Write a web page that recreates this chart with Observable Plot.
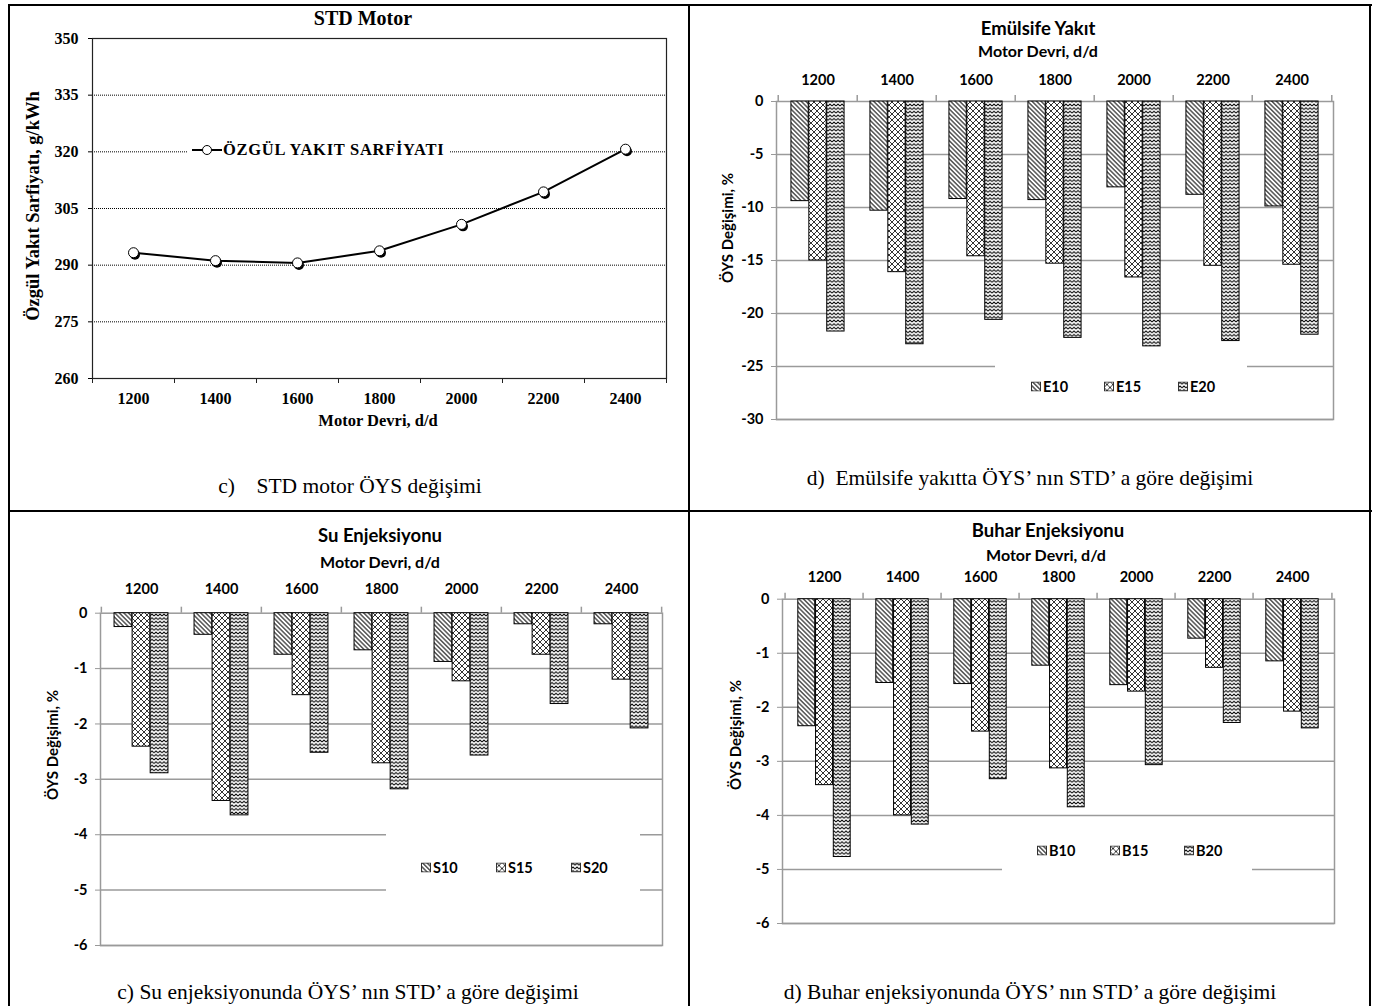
<!DOCTYPE html>
<html><head><meta charset="utf-8">
<script src="https://cdn.jsdelivr.net/npm/d3@7"></script>
<script src="https://cdn.jsdelivr.net/npm/@observablehq/plot@0.6"></script>
<style>
body{margin:0;background:#fff;width:1377px;height:1006px;position:relative;overflow:hidden}
.abs{position:absolute;white-space:pre;line-height:1;color:#000}
.serif{font-family:"Liberation Serif","Times New Roman",serif}
.sans{font-family:Lato,"Noto Sans",sans-serif}
.bline{position:absolute;background:#000}
.bars g[aria-label="y-axis tick"]{stroke:#999}
.leg{position:absolute;background:#fff}
.item{position:absolute;display:flex;align-items:center;font-family:Lato,"Noto Sans",sans-serif;font-weight:bold;font-size:14.5px;transform:translateY(-50%)}
.item svg{margin-right:2px}
</style></head><body>
<svg width="0" height="0" style="position:absolute">
<defs>
<pattern id="p10" patternUnits="userSpaceOnUse" width="3.2" height="3.2" patternTransform="rotate(-45)">
<rect width="3.2" height="3.2" fill="#fff"/><line x1="0.8" y1="0" x2="0.8" y2="3.2" stroke="#000" stroke-width="1"/></pattern>
<pattern id="p15" patternUnits="userSpaceOnUse" width="6" height="6">
<rect width="6" height="6" fill="#fff"/><path d="M0,0L6,6M6,0L0,6" stroke="#000" stroke-width="0.8"/></pattern>
<pattern id="p20" patternUnits="userSpaceOnUse" width="4" height="3.6">
<rect width="4" height="3.6" fill="#fff"/><path d="M0,2.7L2,0.9L4,2.7" stroke="#000" stroke-width="1" fill="none"/></pattern>
</defs></svg>
<script>
// ---------- data ----------
const speeds = [1200, 1400, 1600, 1800, 2000, 2200, 2400];
const stdTicks = [260, 275, 290, 305, 320, 335, 350];
const ozgulYakit = [293.3, 291.2, 290.6, 293.8, 300.8, 309.4, 320.7];

const emulTicks = [0, -5, -10, -15, -20, -25, -30];
const E10 = [-9.4, -10.3, -9.2, -9.3, -8.1, -8.8, -9.9];
const E15 = [-15.0, -16.1, -14.6, -15.3, -16.6, -15.5, -15.4];
const E20 = [-21.7, -22.9, -20.6, -22.3, -23.1, -22.6, -22.0];

const suTicks = [0, -1, -2, -3, -4, -5, -6];
const S10 = [-0.25, -0.39, -0.75, -0.67, -0.88, -0.20, -0.20];
const S15 = [-2.41, -3.39, -1.48, -2.71, -1.23, -0.75, -1.20];
const S20 = [-2.89, -3.65, -2.52, -3.18, -2.57, -1.64, -2.08];

const buharTicks = [0, -1, -2, -3, -4, -5, -6];
const B10 = [-2.35, -1.55, -1.57, -1.23, -1.59, -0.73, -1.15];
const B15 = [-3.44, -4.00, -2.45, -3.13, -1.71, -1.27, -2.08];
const B20 = [-4.77, -4.17, -3.33, -3.85, -3.07, -2.29, -2.39];

const patterns = ["p10", "p15", "p20"];

// ---------- helpers ----------
function txt(s, x, y, cls, size, bold, rot, ls) {
  const d = document.createElement("div");
  d.className = "abs " + cls;
  d.textContent = s;
  d.style.left = x + "px"; d.style.top = y + "px";
  d.style.fontSize = size + "px";
  d.style.fontWeight = bold ? "bold" : "normal";
  if (ls) d.style.letterSpacing = ls + "px";
  d.style.transform = "translate(-50%,-50%)" + (rot ? " rotate(-90deg)" : "");
  document.body.appendChild(d);
}
function hline(x, y, w, t = 2) { const d = document.createElement("div"); d.className = "bline"; Object.assign(d.style, {left: x + "px", top: y + "px", width: w + "px", height: t + "px"}); document.body.appendChild(d); }
function vline(x, y, h, t = 2) { const d = document.createElement("div"); d.className = "bline"; Object.assign(d.style, {left: x + "px", top: y + "px", width: t + "px", height: h + "px"}); document.body.appendChild(d); }
function place(svg, left, top, cls) {
  svg.style.position = "absolute"; svg.style.left = left + "px"; svg.style.top = top + "px";
  if (cls) svg.classList.add(cls);
  document.body.appendChild(svg);
}
function legendBox(x, y, w, h, items) {
  const b = document.createElement("div"); b.className = "leg";
  Object.assign(b.style, {left: x + "px", top: y + "px", width: w + "px", height: h + "px"});
  document.body.appendChild(b);
  items.forEach(([name, pat, ix, iy]) => {
    const it = document.createElement("div"); it.className = "item";
    it.style.left = (ix - x) + "px"; it.style.top = (iy - y) + "px";
    it.innerHTML = `<svg width="10" height="10"><rect x="0.5" y="0.5" width="9" height="9" fill="url(#${pat})" stroke="#333" stroke-width="1"/></svg><span>${name}</span>`;
    b.appendChild(it);
  });
}

// ---------- bar panel ----------
function barPanel(c) {
  const pw = c.width - c.ml - c.mr;
  const step = pw / speeds.length;
  const bw = step * 0.225;
  const gap = (step - 3 * bw) / 2;
  const marks = [
    Plot.ruleY(c.ticks.filter(t => t !== 0), {stroke: "#9a9a9a", strokeWidth: 1.5}),
    Plot.frame({stroke: "#9a9a9a", strokeWidth: 1.5}),
    Plot.ruleX(speeds, {x: d => d, y1: 0, y2: 0, insetTop: -6, dx: -step / 2, stroke: "#9a9a9a", strokeWidth: 1.5}),
    Plot.ruleX(speeds.slice(-1), {x: d => d, y1: 0, y2: 0, insetTop: -6, dx: step / 2, stroke: "#9a9a9a", strokeWidth: 1.5})
  ];
  c.series.forEach((vals, i) => {
    const rows = speeds.map((sp, j) => ({speed: sp, value: vals[j]}));
    marks.push(Plot.barY(rows, {x: "speed", y: "value", fill: `url(#${patterns[i]})`, stroke: "#000", strokeWidth: 1,
      insetLeft: gap + bw * i, insetRight: gap + bw * (2 - i)}));
  });
  const svg = Plot.plot({
    width: c.width, height: c.height, marginLeft: c.ml, marginRight: c.mr, marginTop: c.mt, marginBottom: c.mb,
    x: {type: "band", domain: speeds, padding: 0, axis: "top", tickSize: 0, tickPadding: c.padX, tickFormat: d => String(d), label: null},
    y: {domain: [c.ticks[c.ticks.length - 1], 0], ticks: c.ticks, tickSize: 5, tickPadding: c.padY, tickFormat: d => String(d), label: null},
    style: {fontFamily: "Lato, 'Noto Sans', sans-serif", fontSize: "14.5px", fontWeight: "bold", color: "#000", background: "transparent", overflow: "visible"},
    marks
  });
  place(svg, c.left, c.top, "bars");
}

// ---------- panel A: STD Motor ----------
{
  const width = 660, ml = 72, mr = 14;
  const step = (width - ml - mr) / speeds.length;
  const rowsA = speeds.map((sp, j) => ({speed: sp, value: ozgulYakit[j]}));
  const svg = Plot.plot({
    width, height: 395, marginLeft: ml, marginRight: mr, marginTop: 13, marginBottom: 42,
    x: {type: "point", domain: speeds, padding: 0.5, tickSize: 0, tickPadding: 14, tickFormat: d => String(d), label: null},
    y: {domain: [260, 350], ticks: stdTicks, tickSize: 4, tickPadding: 10, tickFormat: d => String(d), label: null},
    style: {fontFamily: "'Liberation Serif', 'Times New Roman', serif", fontSize: "16px", fontWeight: "bold", color: "#000", background: "transparent", overflow: "visible"},
    marks: [
      Plot.ruleY(stdTicks.slice(1, -1), {stroke: "#000", strokeDasharray: "1,1", strokeWidth: 1}),
      Plot.frame({stroke: "#222", strokeWidth: 1.2}),
      Plot.ruleX(speeds, {x: d => d, y1: 260, y2: 260, insetBottom: -5, dx: -step / 2, stroke: "#222"}),
      Plot.ruleX(speeds.slice(-1), {x: d => d, y1: 260, y2: 260, insetBottom: -5, dx: step / 2, stroke: "#222"}),
      Plot.line(rowsA, {x: "speed", y: "value", stroke: "#000", strokeWidth: 2}),
      Plot.dot(rowsA, {x: "speed", y: "value", r: 5, fill: "#000", dx: 1.5, dy: 2}),
      Plot.dot(rowsA, {x: "speed", y: "value", r: 5, fill: "#fff", stroke: "#000", strokeWidth: 1})
    ]
  });
  place(svg, 20, 25);
  txt("STD Motor", 363, 18, "serif", 20, true);
  txt("Özgül Yakıt Sarfiyatı, g/kWh", 33, 206, "serif", 18.5, true, true);
  txt("Motor Devri, d/d", 378, 421, "serif", 16.5, true);
  txt("c)    STD motor ÖYS değişimi", 350, 487, "serif", 21.5, false);
  // legend
  const lb = document.createElement("div"); lb.className = "leg";
  Object.assign(lb.style, {left: "188px", top: "140px", width: "262px", height: "20px"});
  lb.innerHTML = `<div style="position:absolute;left:3px;top:0;display:flex;align-items:center;height:20px;font-family:'Liberation Serif',serif;font-weight:bold;font-size:16.5px;letter-spacing:0.7px;white-space:pre"><svg width="32" height="12"><line x1="1" y1="6" x2="31" y2="6" stroke="#000" stroke-width="2"/><circle cx="16" cy="6" r="4.5" fill="#fff" stroke="#000" stroke-width="1"/></svg><span>ÖZGÜL YAKIT SARFİYATI</span></div>`;
  document.body.appendChild(lb);
}

// ---------- panel B: Emülsife Yakıt ----------
barPanel({left: 700, top: 60, width: 660, height: 380, ml: 76, mr: 27, mt: 41, mb: 21, padX: 17, padY: 8, ticks: emulTicks, series: [E10, E15, E20]});
txt("Emülsife Yakıt", 1038, 28, "sans", 18.5, true);
txt("Motor Devri, d/d", 1038, 51, "sans", 16, true);
txt("ÖYS Değişimi, %", 727, 228, "sans", 15, true, true);
legendBox(995, 356, 252, 44, [["E10", "p10", 1031, 386], ["E15", "p15", 1104, 386], ["E20", "p20", 1178, 386]]);
txt("d)  Emülsife yakıtta ÖYS’ nın STD’ a göre değişimi", 1030, 479, "serif", 21.5, false);

// ---------- panel C: Su Enjeksiyonu ----------
barPanel({left: 30, top: 570, width: 650, height: 390, ml: 70, mr: 18, mt: 42.7, mb: 15, padX: 19, padY: 8, ticks: suTicks, series: [S10, S15, S20]});
txt("Su Enjeksiyonu", 380, 535, "sans", 18.5, true);
txt("Motor Devri, d/d", 380, 562, "sans", 16, true);
txt("ÖYS Değişimi, %", 52, 745, "sans", 15, true, true);
legendBox(386, 824, 254, 76, [["S10", "p10", 421, 867], ["S15", "p15", 496, 867], ["S20", "p20", 571, 867]]);
txt("c) Su enjeksiyonunda ÖYS’ nın STD’ a göre değişimi", 348, 993, "serif", 21.5, false);

// ---------- panel D: Buhar Enjeksiyonu ----------
barPanel({left: 700, top: 560, width: 660, height: 380, ml: 82, mr: 26, mt: 38.7, mb: 17, padX: 17, padY: 8, ticks: buharTicks, series: [B10, B15, B20]});
txt("Buhar Enjeksiyonu", 1048, 530, "sans", 18.5, true);
txt("Motor Devri, d/d", 1046, 555, "sans", 16, true);
txt("ÖYS Değişimi, %", 735, 735, "sans", 15, true, true);
legendBox(1002, 830, 250, 48, [["B10", "p10", 1037, 850], ["B15", "p15", 1110, 850], ["B20", "p20", 1184, 850]]);
txt("d) Buhar enjeksiyonunda ÖYS’ nın STD’ a göre değişimi", 1030, 993, "serif", 21.5, false);

// ---------- table borders ----------
hline(8, 4, 1364);
hline(8, 510, 1364);
vline(8, 4, 1002);
vline(688, 4, 1002);
vline(1369, 4, 1002);
</script>
</body></html>
